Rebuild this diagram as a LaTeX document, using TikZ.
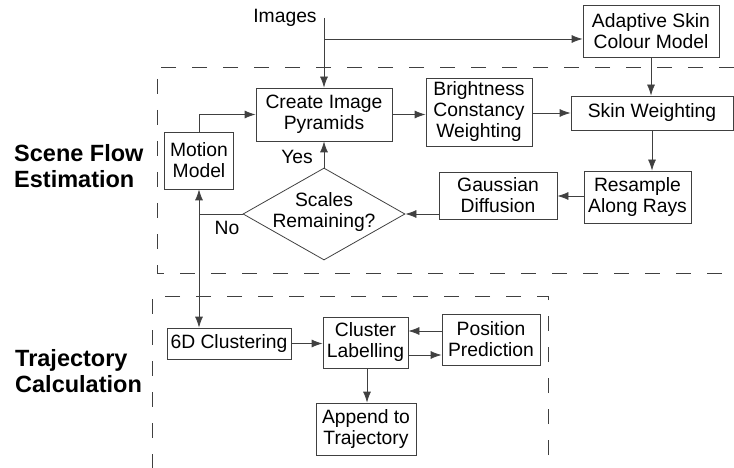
\documentclass[tikz,border=0pt]{standalone}
\usepackage{fontspec}
\setmainfont{Liberation Sans}
\usetikzlibrary{shapes.geometric,arrows.meta}
\begin{document}
\begin{tikzpicture}[x=1pt,y=-1pt,
  every node/.style={font=\fontsize{19.3}{21}\selectfont},
  box/.style={draw=black!75,line width=0.8pt,inner sep=0pt,align=center,text=black},
  decision/.style={draw=black!75,line width=0.8pt,diamond,inner sep=0pt,minimum width=162pt,minimum height=92pt},
  lbl/.style={inner sep=0pt,align=left,anchor=west,font=\fontsize{23.5}{26}\selectfont\bfseries},
  txt/.style={inner sep=0pt,align=center},
  conn/.style={draw=black!75,line width=0.8pt},
  arr/.style={conn,-{Latex[length=11pt,width=8pt]}},
  region/.style={draw=black!75,line width=0.8pt,dash pattern=on 15pt off 16pt}]
\useasboundingbox (0,0) rectangle (734,468);

% region outlines
\draw[region] (734,67) -- (157,67) -- (157,273) -- (723,273);
\draw[region] (548,455) -- (548,296) -- (152,296) -- (152,468);

% side labels
\node[lbl] (sfe) at (14,166) {Scene Flow\\Estimation};
\node[lbl] (tc) at (15,371) {Trajectory\\Calculation};

% nodes
\node[txt] (img) at (285,18) {Images};
\coordinate (imgtop) at (324,18);
\coordinate (branch) at (324,39);
\node[box,minimum width=136pt,minimum height=52pt] (adapt) at (651,31) {Adaptive Skin\\Colour Model};
\node[box,minimum width=136pt,minimum height=53pt] (pyr) at (324,114.5) {Create Image\\Pyramids};
\node[box,minimum width=106pt,minimum height=68pt] (bright) at (479,112) {Brightness\\Constancy\\Weighting};
\node[box,minimum width=162pt,minimum height=34pt] (skin) at (652,113) {Skin Weighting};
\node[box,minimum width=69pt,minimum height=57pt] (motion) at (199,160.5) {Motion\\Model};
\node[decision] (diam) at (324,214) {};
\node[txt] (diamtext) at (324,212) {Scales\\Remaining?};
\node[box,minimum width=118pt,minimum height=47pt] (gauss) at (498,195.5) {Gaussian\\Diffusion};
\node[box,minimum width=107pt,minimum height=52pt] (res) at (637.5,197) {Resample\\Along Rays};
\coordinate (split) at (199,214);
\node[txt] (yes) at (297,157) {Yes};
\node[txt] (no) at (227,228) {No};

\node[box,minimum width=124pt,minimum height=31pt] (c6) at (229,343.5) {6D Clustering};
\node[box,minimum width=85pt,minimum height=51pt] (clab) at (365.5,342.5) {Cluster\\Labelling};
\node[box,minimum width=98pt,minimum height=51pt] (pos) at (491,339.5) {Position\\Prediction};
\node[box,minimum width=100pt,minimum height=52pt] (app) at (366,429) {Append to\\Trajectory};

% connectors
\draw[arr] (imgtop) -- (pyr.north);
\draw[arr] (branch) -- (branch -| adapt.west);
\draw[arr] (adapt.south) -- (adapt.south |- skin.north);
\draw[arr] (pyr.east) -- (pyr.east -| bright.west);
\draw[arr] (bright.east |- skin.west) -- (skin.west);
\draw[arr] (skin.south) -- (skin.south |- res.north);
\draw[arr] (res.west |- 0,196) -- (gauss.east |- 0,196);
\draw[arr] (gauss.west |- diam.east) -- (diam.east);
\draw[arr] (diam.north) -- (pyr.south);
\draw[conn] (diam.west) -- (split);
\draw[arr] (split) -- (split |- motion.south);
\draw[arr] (motion.north) |- (pyr.west);
\draw[arr] (split) -- (split |- c6.north);
\draw[arr] (c6.east) -- (c6.east -| clab.west);
\draw[arr] (pos.west |- 0,331) -- (clab.east |- 0,331);
\draw[arr] (clab.east |- 0,355) -- (pos.west |- 0,355);
\draw[arr] (clab.south -| 367,0) -- (app.north -| 367,0);
\end{tikzpicture}
\end{document}
